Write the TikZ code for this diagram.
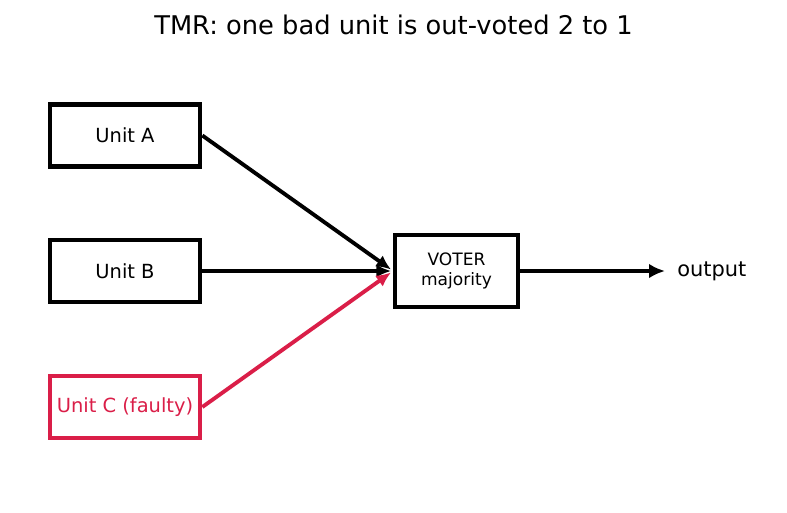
\documentclass[tikz,border=0pt]{standalone}
\usepackage{fontspec}
\setmainfont{DejaVu Sans}
\usetikzlibrary{arrows.meta}
\definecolor{faulty}{RGB}{218,30,72}
\begin{document}
\begin{tikzpicture}[x=0.75pt,y=-0.75pt,
  unitbox/.style={draw,line width=3.5pt,minimum width=150*0.75pt,minimum height=62*0.75pt,inner sep=0pt,font=\fontsize{14.6}{16}\selectfont},
  conn/.style={line width=2.9pt,-{Latex[length=11pt,width=10pt]}},
]
\useasboundingbox (0,0) rectangle (787,512);
\node[font=\fontsize{19.3}{22}\selectfont] (title) at (393.5,25) {TMR: one bad unit is out-voted 2 to 1};
\node[unitbox] (A) at (125,135.5) {Unit A};
\node[unitbox] (B) at (125,271) {Unit B};
\node[unitbox,draw=faulty,text=faulty] (C) at (125,407) {Unit C (faulty)};
\node[draw,line width=3.5pt,minimum width=123*0.75pt,minimum height=72*0.75pt,inner sep=0pt,align=center,font=\fontsize{12.8}{15}\selectfont] (V) at (456.5,271) {VOTER\\majority};
\node[anchor=west,font=\fontsize{15.7}{18}\selectfont,inner sep=0pt] (out) at (677,271) {output};
\coordinate (inA) at (391,269.5);
\coordinate (inB) at (391,271);
\coordinate (inC) at (391,272.5);
\coordinate (outend) at (665,271);
\draw[conn] (A.east) -- (inA);
\draw[conn] (B.east) -- (inB);
\draw[conn,draw=faulty,fill=faulty] (C.east) -- (inC);
\draw[line width=3.5pt,-{Latex[length=12pt,width=11pt]}] (V.east) -- (outend);
\end{tikzpicture}
\end{document}
